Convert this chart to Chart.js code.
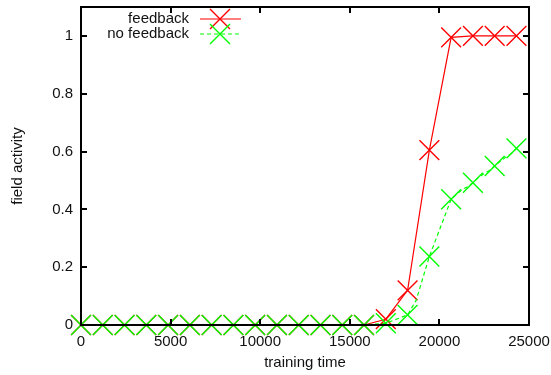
<!DOCTYPE html>
<html><head><meta charset="utf-8">
<script src="https://cdn.jsdelivr.net/npm/chart.js@4/dist/chart.umd.min.js"></script>
<style>html,body{margin:0;padding:0;background:#fff}#wrap{width:551px;height:375px;position:relative}</style>
</head><body><div id="wrap"><canvas id="c" width="551" height="375"></canvas></div>
<script>
const markerTimes = [0, 1215, 2430, 3645, 4860, 6075, 7290, 8505, 9720, 10935, 12150, 13365, 14580, 15795, 17010, 18225, 19440, 20655, 21870, 23085, 24300];
const feedbackValues = [0, 0, 0, 0, 0, 0, 0, 0, 0, 0, 0, 0, 0, 0, 0.02, 0.12, 0.605, 0.995, 1.0, 1.0, 1.0];
const noFeedbackValues = [0, 0, 0, 0, 0, 0, 0, 0, 0, 0, 0, 0, 0, 0, 0.006, 0.035, 0.237, 0.435, 0.492, 0.55, 0.611];
const noFeedbackTraceTimes = [18700, 20960, 21260, 21570, 22170, 22480, 22780, 23390, 23690, 24000];
const noFeedbackTraceValues = [0.085, 0.452, 0.468, 0.478, 0.51, 0.523, 0.534, 0.566, 0.58, 0.592];
const xTicks = [0, 5000, 10000, 15000, 20000, 25000];
const yTicks = [0, 0.2, 0.4, 0.6, 0.8, 1];
const seriesLabels = ['feedback', 'no feedback'];
const seriesColors = ['#ff0000', '#00ff00'];

const FONT = {family: '"Liberation Sans", Arial, sans-serif', size: 15};
const TEXT = '#111';

const feedbackPts = markerTimes.map((t, i) => ({x: t, y: feedbackValues[i], m: true}));
const noFeedbackPts = markerTimes.map((t, i) => ({x: t, y: noFeedbackValues[i], m: true}))
  .concat(noFeedbackTraceTimes.map((t, i) => ({x: t, y: noFeedbackTraceValues[i], m: false})))
  .sort((a, b) => a.x - b.x);

const radiusFn = ctx => (ctx.raw && ctx.raw.m) ? 14 : 0;

const frame = {
  id: 'frame',
  afterDatasetsDraw(chart) {
    const {ctx, chartArea: a, scales} = chart;
    ctx.save();
    ctx.strokeStyle = '#000';
    ctx.lineWidth = 2;
    ctx.strokeRect(a.left, a.top, a.right - a.left, a.bottom - a.top);
    ctx.beginPath();
    const L = 6;
    xTicks.forEach(v => {
      const x = Math.round(scales.x.getPixelForValue(v));
      ctx.moveTo(x, a.bottom); ctx.lineTo(x, a.bottom - L);
      ctx.moveTo(x, a.top); ctx.lineTo(x, a.top + L);
    });
    yTicks.forEach(v => {
      const y = Math.round(scales.y.getPixelForValue(v));
      ctx.moveTo(a.left, y); ctx.lineTo(a.left + L, y);
      ctx.moveTo(a.right, y); ctx.lineTo(a.right - L, y);
    });
    ctx.stroke();
    ctx.restore();
  },
  afterDraw(chart) {
    const {ctx} = chart;
    ctx.save();
    chart.data.datasets.forEach((ds, i) => {
      const y = 19 + i * 15;
      ctx.font = FONT.size + 'px ' + FONT.family;
      ctx.fillStyle = TEXT;
      ctx.textAlign = 'right';
      ctx.textBaseline = 'middle';
      ctx.fillText(ds.label, 189, y);
      ctx.strokeStyle = ds.borderColor;
      ctx.lineWidth = 1.2;
      ctx.setLineDash(ds.borderDash || []);
      ctx.beginPath(); ctx.moveTo(200, y); ctx.lineTo(241, y); ctx.stroke();
      ctx.setLineDash([]);
      const cx = 220, h = 10;
      ctx.lineWidth = 1.4;
      ctx.strokeStyle = ds.borderColor;
      ctx.beginPath();
      ctx.moveTo(cx - h, y - h); ctx.lineTo(cx + h, y + h);
      ctx.moveTo(cx - h, y + h); ctx.lineTo(cx + h, y - h);
      ctx.stroke();
    });
    ctx.restore();
  }
};

new Chart(document.getElementById('c'), {
  type: 'line',
  data: {
    datasets: [
      {label: seriesLabels[0], data: feedbackPts, borderColor: seriesColors[0], backgroundColor: seriesColors[0],
       pointBorderColor: seriesColors[0],
       borderWidth: 1.2, pointStyle: 'crossRot', pointRadius: radiusFn, pointBorderWidth: 1.4, pointHoverRadius: radiusFn,
       fill: false, tension: 0, clip: false, order: 2},
      {label: seriesLabels[1], data: noFeedbackPts, borderColor: seriesColors[1], backgroundColor: seriesColors[1],
       pointBorderColor: seriesColors[1],
       borderWidth: 1.2, borderDash: [4, 3], pointStyle: 'crossRot', pointRadius: radiusFn, pointBorderWidth: 1.4, pointHoverRadius: radiusFn,
       fill: false, tension: 0, clip: false, order: 1}
    ]
  },
  options: {
    responsive: false, animation: false, devicePixelRatio: 1,
    events: [],
    layout: {autoPadding: false, padding: {top: 7, right: 22, bottom: 0, left: 0}},
    plugins: {legend: {display: false}, tooltip: {enabled: false}},
    scales: {
      x: {
        type: 'linear', min: 0, max: 25000,
        afterBuildTicks: s => { s.ticks = xTicks.map(v => ({value: v})); },
        afterFit: s => { s.height = 50; s.paddingLeft = 0; s.paddingRight = 0; },
        grid: {display: false, drawTicks: false}, border: {display: false},
        ticks: {font: FONT, color: TEXT, padding: 8, maxRotation: 0, autoSkip: false, callback: v => String(v)},
        title: {display: true, text: 'training time', font: FONT, color: TEXT, padding: {top: 2, bottom: 3}}
      },
      y: {
        type: 'linear', min: 0, max: 1.1,
        afterBuildTicks: s => { s.ticks = yTicks.map(v => ({value: v})); },
        afterFit: s => { s.width = 81; s.paddingTop = 0; s.paddingBottom = 0; },
        grid: {display: false, drawTicks: false}, border: {display: false},
        ticks: {font: FONT, color: TEXT, padding: 8, autoSkip: false, callback: v => String(Math.round(v * 10) / 10)},
        title: {display: true, text: 'field activity', font: FONT, color: TEXT, padding: {top: 9, bottom: 4}}
      }
    }
  },
  plugins: [frame]
});
</script></body></html>
